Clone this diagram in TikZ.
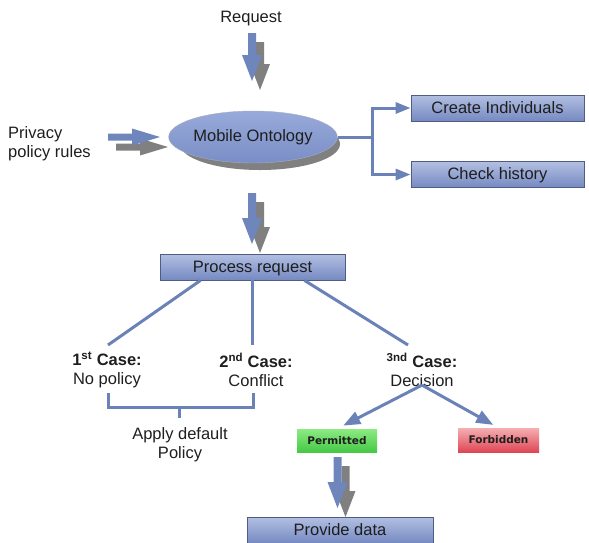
\documentclass[tikz,border=0pt]{standalone}
\usepackage{fontspec}
\setmainfont{Liberation Sans}
\newfontfamily\tagfont{DejaVu Sans}
\usetikzlibrary{arrows.meta,shapes.geometric,calc}
\definecolor{boxtop}{RGB}{178,191,226}
\definecolor{boxbot}{RGB}{118,138,194}
\definecolor{boxborder}{RGB}{80,92,130}
\definecolor{ovtop}{RGB}{152,170,218}
\definecolor{ovbot}{RGB}{122,142,198}
\definecolor{arrblue}{RGB}{110,134,188}
\definecolor{shgray}{RGB}{128,128,128}
\definecolor{lineblue}{RGB}{106,130,184}
\definecolor{txt}{RGB}{30,30,30}
\definecolor{grtop}{RGB}{140,235,130}
\definecolor{grbot}{RGB}{70,200,70}
\definecolor{rdtop}{RGB}{245,175,178}
\definecolor{rdbot}{RGB}{222,70,85}
\newcommand\blkdown[3]{%
  \pgfmathsetmacro\hs{#3-#2-26}%
  \pgfmathsetmacro\ln{#3-#2}%
  \begin{scope}[shift={(#1,#2)}]
    \fill[shgray] (4,9) -- (12,9) -- (12,\hs+9) -- (18,\hs+9) -- (8,\ln+9) -- (-2,\hs+9) -- (4,\hs+9) -- cycle;
    \fill[arrblue] (-4,0) -- (4,0) -- (4,\hs) -- (10,\hs) -- (0,\ln) -- (-10,\hs) -- (-4,\hs) -- cycle;
  \end{scope}}
\newcommand\blkright[3]{%
  \pgfmathsetmacro\hs{#3-#1-28}%
  \pgfmathsetmacro\ln{#3-#1}%
  \begin{scope}[shift={(#1,#2)}]
    \fill[shgray] (8,6.5) -- (\hs+8,6.5) -- (\hs+8,1.5) -- (\ln+8,10) -- (\hs+8,18.5) -- (\hs+8,13.5) -- (8,13.5) -- cycle;
    \fill[arrblue] (0,-3.5) -- (\hs,-3.5) -- (\hs,-8.5) -- (\ln,0) -- (\hs,8.5) -- (\hs,3.5) -- (0,3.5) -- cycle;
  \end{scope}}
\begin{document}
\begin{tikzpicture}[x=1pt,y=-1pt,
  font=\fontsize{16.5}{19}\selectfont,
  every node/.style={text=txt},
  box/.style={draw=boxborder, line width=0.8pt, top color=boxtop, bottom color=boxbot,
    minimum height=26pt, inner sep=0pt, text height=12pt, text depth=2pt},
  tag/.style={font=\tagfont\bfseries\fontsize{10.5}{12}\selectfont, minimum height=23pt, minimum width=80pt, inner sep=0pt},
  conn/.style={draw=lineblue, line width=3pt},
  tip/.style={-{Triangle[length=15pt,width=11pt]}},
  bigtip/.style={-{Triangle[length=17pt,width=13pt]}},
  txtblk/.style={align=center, inner sep=0pt}]
\useasboundingbox (0,0) rectangle (589,542);

% texts
\node[txtblk] (req) at (251,19) {Request};
\node[align=left, anchor=west, inner sep=0pt] (priv) at (8,144) {Privacy\\policy rules};

% block arrows
\blkdown{252}{33}{81}
\blkright{108}{137}{160}
\blkdown{252}{193}{244}

% ontology ellipse with shadow
\fill[shgray] (260,144) ellipse [x radius=80, y radius=26];
\node[ellipse, draw=boxborder!50, line width=0.4pt, top color=ovtop, bottom color=ovbot,
  minimum width=160pt, minimum height=52pt, inner sep=0pt] (onto) at (253,137) {Mobile Ontology};

% right boxes
\node[box, minimum width=173pt] (create) at (497.5,108) {Create Individuals};
\node[box, minimum width=173pt] (check) at (497.5,174.5) {Check history};
\coordinate (split) at (372,137);
\draw[conn] (onto.east) -- (split);
\draw[conn, tip] (split) |- (create.west);
\draw[conn, tip] (split) |- (check.west);

% process request
\node[box, minimum width=185pt] (proc) at (252.5,267) {Process request};

\node[txtblk] (c1) at (107,370) {\textbf{1\textsuperscript{st} Case:}\\No policy};
\node[txtblk] (c2) at (256,370) {\textbf{2\textsuperscript{nd} Case:}\\Conflict};
\node[txtblk] (c3) at (422,370) {\textbf{\textsuperscript{3nd} Case:}\\Decision};

\draw[conn] ([xshift=-52pt]proc.south) -- (108,345);
\draw[conn] (proc.south) -- (252.5,345);
\draw[conn] ([xshift=52pt]proc.south) -- (408,345);

% bracket
\node[txtblk] (apply) at (180,445) {Apply default\\Policy};
\coordinate (b1) at (108,393);
\coordinate (b2) at (253,393);
\draw[conn] (b1) |- (b2 |- 0,407) -- (b2);
\draw[conn] (179,407) -- (179,418);

% decision
\node[tag, top color=grtop, bottom color=grbot] (perm) at (337,440.5) {Permitted};
\node[tag, top color=rdtop, bottom color=rdbot, minimum height=24pt, minimum width=81pt] (forb) at (498.5,440) {Forbidden};
\draw[conn, bigtip, shorten >=7pt] ([yshift=2pt]c3.south) -- (perm.north);
\draw[conn, bigtip, shorten >=6pt] ([yshift=2pt]c3.south) -- (forb.north);

% provide data
\blkdown{337.5}{457}{508}
\node[box, minimum width=186pt] (prov) at (340,530) {Provide data};
\end{tikzpicture}
\end{document}
